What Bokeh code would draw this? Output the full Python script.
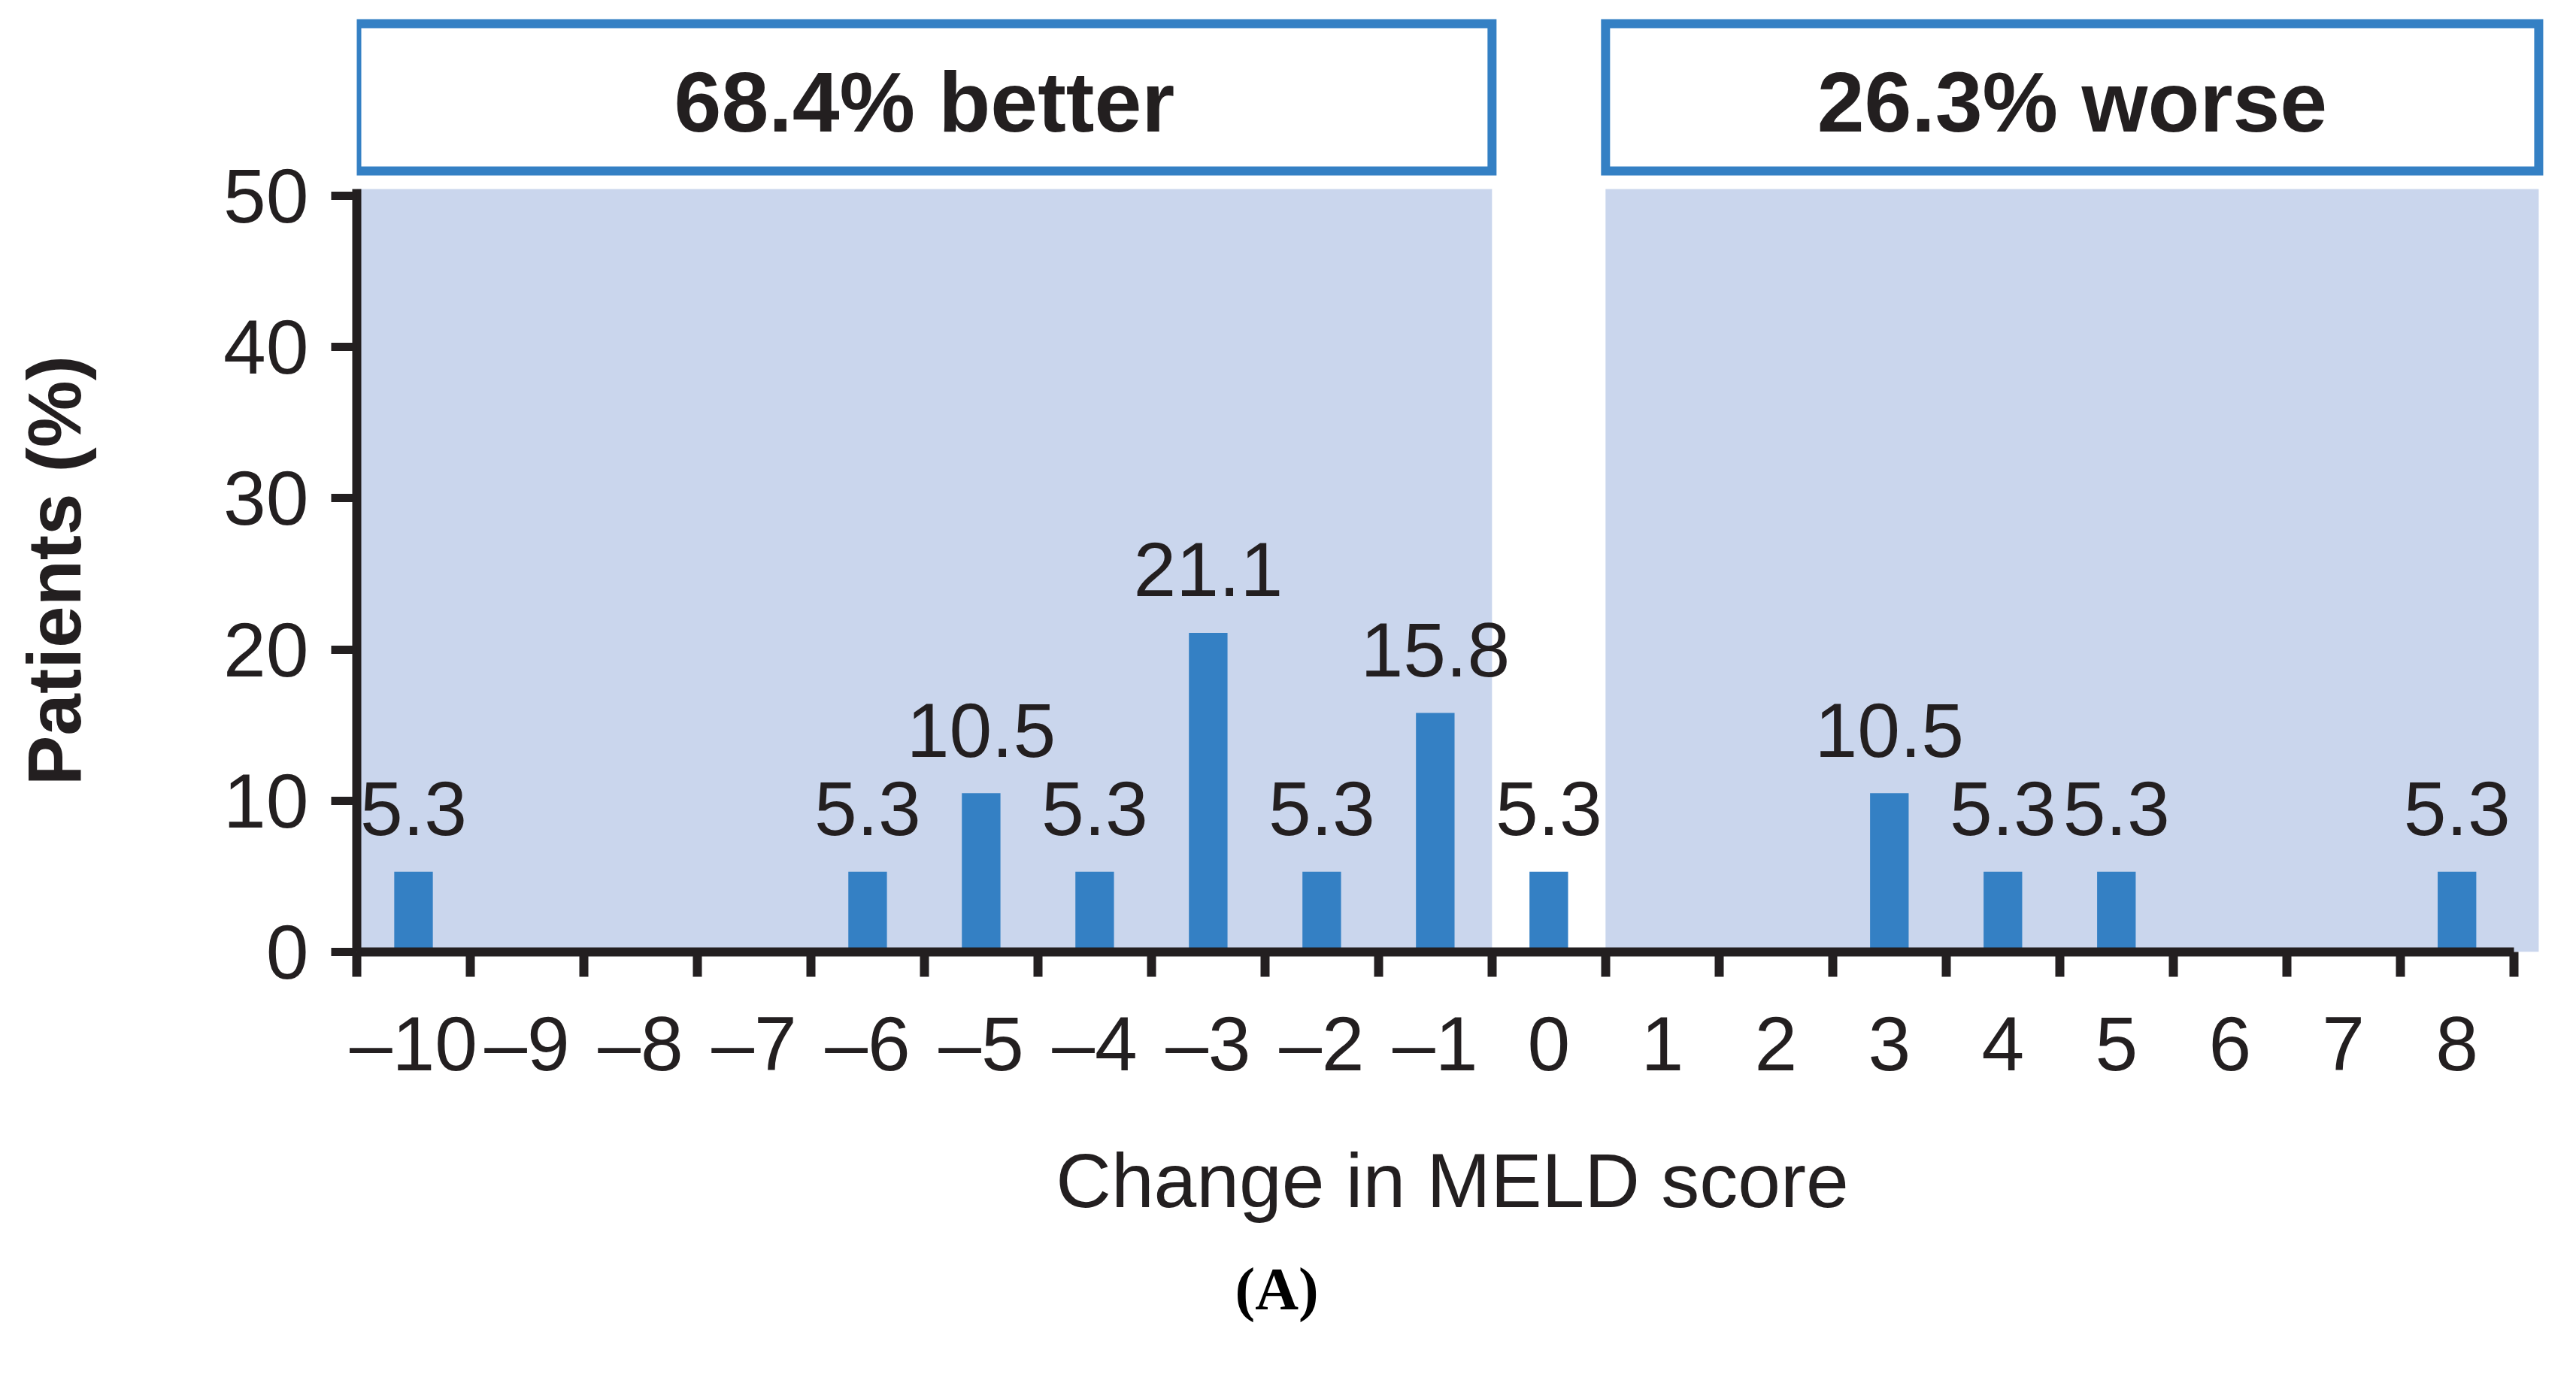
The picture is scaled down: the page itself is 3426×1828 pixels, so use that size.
from bokeh.plotting import figure
from bokeh.models import FixedTicker, Range1d, Title, Div
from bokeh.layouts import row
from bokeh.embed import file_html
from bokeh.resources import INLINE
from bokeh.core.properties import value

# ---------------- data ----------------
changes = [-10, -6, -5, -4, -3, -2, -1, 0, 3, 4, 5, 8]
patients_pct = [5.3, 5.3, 10.5, 5.3, 21.1, 5.3, 15.8, 5.3, 10.5, 5.3, 5.3, 5.3]
tick_values = list(range(-10, 9))
y_ticks = [0, 10, 20, 30, 40, 50]
group_labels = ["68.4% better", "26.3% worse"]
x_title = "Change in MELD score"
y_title = "Patients (%)"
panel_label = "(A)"

# ---------------- style ----------------
INK = "#231f20"
BLUE = "#3480c4"
SHADE = "#cad6ed"
FONT = "Liberation Sans"

TITLE_W = 200          # width of the column that holds the rotated y title
TOTAL_W = 3410
H = 1812

x_lo, x_hi = tick_values[0] - 0.5, tick_values[-1] + 0.5
edges = [v - 0.5 for v in tick_values] + [x_hi]
grp_left = [x_lo, 0.5]
grp_right = [-0.5, 8.72]
grp_center = [(a + b) / 2 for a, b in zip(grp_left, grp_right)]

p = figure(width=TOTAL_W - TITLE_W, height=H,
           x_range=Range1d(x_lo, 8.8), y_range=Range1d(0, 62.03),
           toolbar_location=None, output_backend="svg",
           min_border_left=474 - TITLE_W, min_border_right=22,
           min_border_top=18, min_border_bottom=546,
           outline_line_color=None, margin=0)
p.xgrid.visible = False
p.ygrid.visible = False

# shaded group panels
p.quad(left=grp_left, right=grp_right, bottom=0, top=50.45,
       fill_color=SHADE, line_color=None)

# header boxes
p.quad(left=grp_left, right=grp_right, bottom=51.64, top=61.38,
       fill_color="white", line_color=BLUE, line_width=12, line_join="miter")
p.text(x=grp_center, y=[56.2, 56.2], text=group_labels,
       text_font=value(FONT), text_font_style="bold", text_font_size="113px",
       text_align="center", text_baseline="alphabetic", text_color=INK)

# bars
p.vbar(x=changes, top=patients_pct, width=0.34, fill_color=BLUE, line_color=None)
p.text(x=changes, y=patients_pct, text=[f"{v:.1f}" for v in patients_pct],
       text_font=value(FONT), text_font_size="102px", text_align="center",
       text_baseline="alphabetic", y_offset=-84, text_color=INK)

# x axis
xa = p.xaxis[0]
xa.ticker = FixedTicker(ticks=tick_values, minor_ticks=edges)
xa.bounds = (x_lo, x_hi)
xa.major_label_overrides = {v: (f"\u2013{abs(v)}" if v < 0 else str(v)) for v in tick_values}
xa.axis_line_width = 12
xa.axis_line_color = INK
xa.major_tick_out = 0
xa.major_tick_in = 0
xa.minor_tick_out = 33
xa.minor_tick_in = 0
xa.minor_tick_line_width = 12
xa.minor_tick_line_color = INK
xa.major_label_standoff = 32
xa.major_label_text_font = FONT
xa.major_label_text_font_size = "102px"
xa.major_label_text_color = INK
xa.axis_label = x_title
xa.axis_label_text_font = FONT
xa.axis_label_text_font_size = "102px"
xa.axis_label_text_font_style = "normal"
xa.axis_label_text_color = INK
xa.axis_label_standoff = 65

# y axis
ya = p.yaxis[0]
ya.ticker = FixedTicker(ticks=y_ticks, minor_ticks=[])
ya.bounds = (0, 50.45)
ya.axis_line_width = 12
ya.axis_line_color = INK
ya.major_tick_out = 34
ya.major_tick_in = 0
ya.major_tick_line_width = 11
ya.major_tick_line_color = INK
ya.minor_tick_out = 0
ya.minor_tick_in = 0
ya.major_label_standoff = 30
ya.major_label_text_font = FONT
ya.major_label_text_font_size = "102px"
ya.major_label_text_color = INK

# panel caption, below the axis title (kept within the bottom border)
p.add_layout(Title(text=panel_label, align="left", offset=1168, standoff=76,
                   text_font="Liberation Serif", text_font_style="bold",
                   text_font_size="80px", text_color="black"), "below")

# rotated y-axis title (reads bottom to top)
y_title_div = Div(
    width=TITLE_W, height=H, margin=0,
    styles={"overflow": "hidden"},
    text=(f'<div style="position:relative;width:{TITLE_W}px;height:{H}px;margin:0;padding:0;">'
          f'<div style="position:absolute;left:22px;top:473px;'
          f'writing-mode:vertical-rl;transform:rotate(180deg);'
          f"font-family:'{FONT}';font-weight:bold;font-size:100px;line-height:100px;"
          f'color:{INK};white-space:nowrap;">{y_title}</div></div>'),
)

layout = row(y_title_div, p, spacing=0, margin=0)
open("out.html", "w").write(file_html(layout, INLINE))
